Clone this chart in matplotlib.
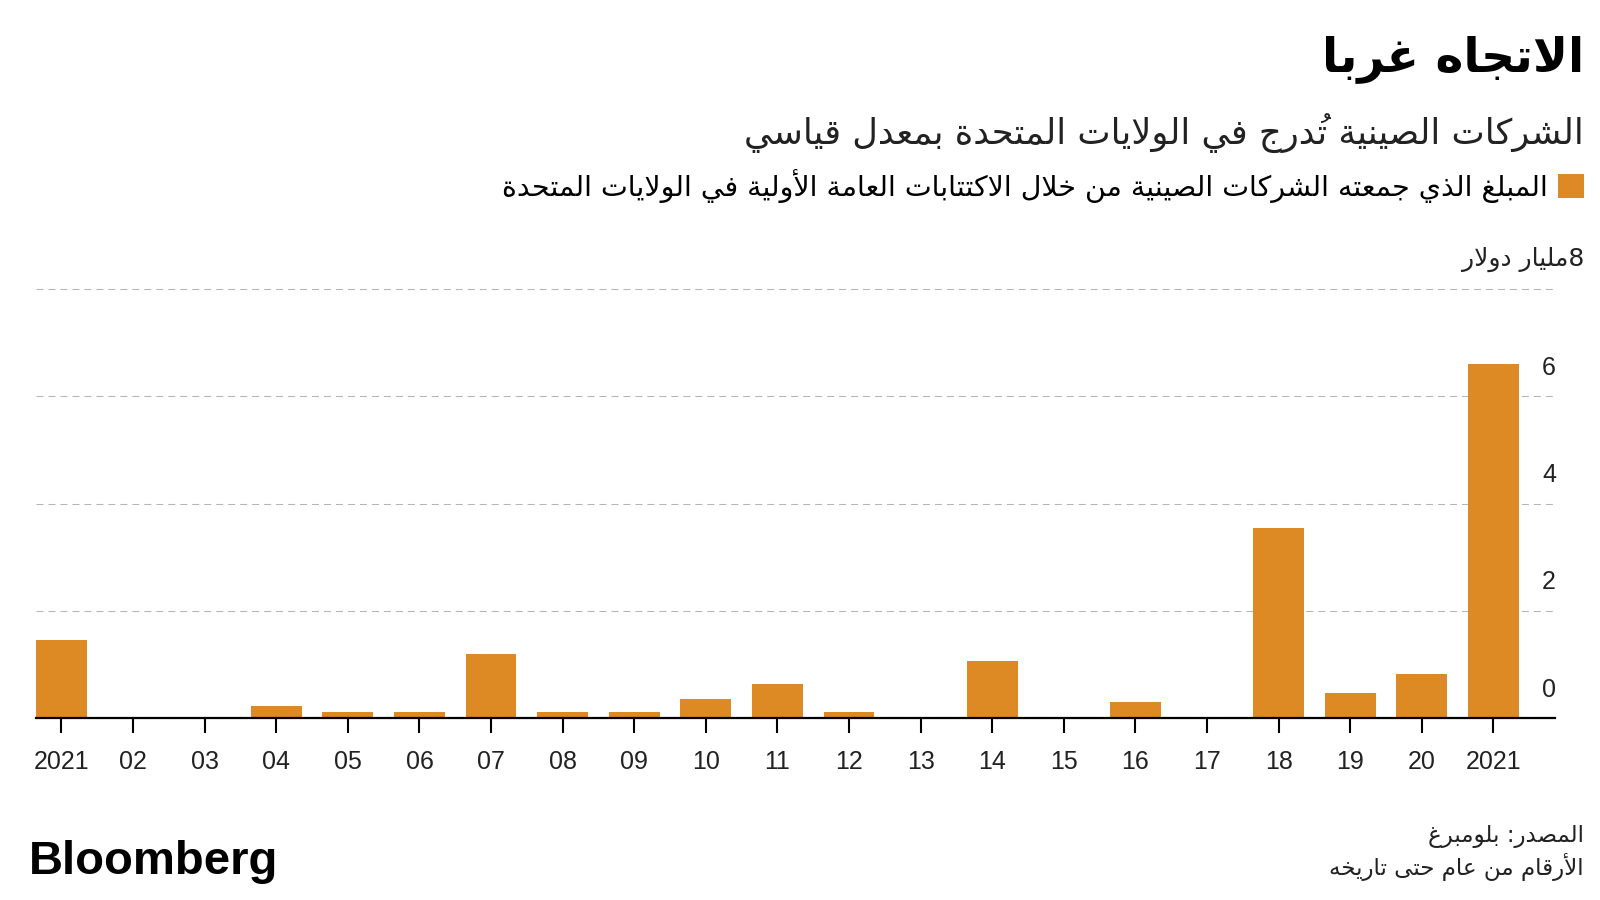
import matplotlib
matplotlib.use("Agg")
import matplotlib.pyplot as plt
import matplotlib.transforms as mtransforms

OUT = "out.png"

# ---- data (billion USD raised by Chinese IPOs in the US) ----
years = ["2021", "02", "03", "04", "05", "06", "07", "08", "09", "10", "11",
         "12", "13", "14", "15", "16", "17", "18", "19", "20", "2021"]
ipo_bn = [1.46, 0, 0, 0.23, 0.12, 0.12, 1.19, 0.12, 0.12, 0.36, 0.64,
          0.12, 0, 1.07, 0, 0.31, 0, 3.55, 0.47, 0.83, 6.60]
y_ticks = [0, 2, 4, 6, 8]
y_labels = ["0", "2", "4", "6", ""]

TITLE = "الاتجاه غربا"
SUBTITLE = "الشركات الصينية تُدرج في الولايات المتحدة بمعدل قياسي"
LEGEND = "المبلغ الذي جمعته الشركات الصينية من خلال الاكتتابات العامة الأولية في الولايات المتحدة"
UNIT = "8مليار دولار"
SOURCE = "المصدر: بلومبرغ"
NOTE = "الأرقام من عام حتى تاريخه"

ORANGE = "#DD8A24"
AR_FONT = "DejaVu Sans"
NUM_FONT = "Liberation Sans"

# ---- tiny Arabic shaper (no raqm in matplotlib) ----
DUAL = {"ئ": 0xFE89, "ب": 0xFE8F, "ت": 0xFE95, "ث": 0xFE99, "ج": 0xFE9D,
        "ح": 0xFEA1, "خ": 0xFEA5, "س": 0xFEB1, "ش": 0xFEB5, "ص": 0xFEB9,
        "ض": 0xFEBD, "ط": 0xFEC1, "ظ": 0xFEC5, "ع": 0xFEC9, "غ": 0xFECD,
        "ف": 0xFED1, "ق": 0xFED5, "ك": 0xFED9, "ل": 0xFEDD, "م": 0xFEE1,
        "ن": 0xFEE5, "ه": 0xFEE9, "ي": 0xFEF1}
RIGHT = {"آ": 0xFE81, "أ": 0xFE83, "ؤ": 0xFE85, "إ": 0xFE87, "ا": 0xFE8D,
         "ة": 0xFE93, "د": 0xFEA9, "ذ": 0xFEAB, "ر": 0xFEAD, "ز": 0xFEAF,
         "و": 0xFEED, "ى": 0xFEEF}
LAM_ALEF = {"آ": 0xFEF5, "أ": 0xFEF7, "إ": 0xFEF9, "ا": 0xFEFB}
MARKS = set(chr(c) for c in range(0x064B, 0x0653))


def jtype(b):
    if b in DUAL:
        return "D"
    if b in RIGHT or b.startswith("LA"):
        return "R"
    return "U"


def ar(text):
    clusters = []
    for ch in text:
        if ch in MARKS and clusters:
            clusters[-1][1] += ch
        else:
            clusters.append([ch, ""])
    merged = []
    i = 0
    while i < len(clusters):
        b, m = clusters[i]
        if b == "ل" and i + 1 < len(clusters) and clusters[i + 1][0] in LAM_ALEF:
            merged.append(["LA" + clusters[i + 1][0], m + clusters[i + 1][1]])
            i += 2
        else:
            merged.append([b, m])
            i += 1
    out = []
    for i, (b, m) in enumerate(merged):
        t = jtype(b)
        pj = i > 0 and jtype(merged[i - 1][0]) == "D" and t != "U"
        nj = i + 1 < len(merged) and t == "D" and jtype(merged[i + 1][0]) != "U"
        if b.startswith("LA"):
            g = chr(LAM_ALEF[b[2]] + (1 if pj else 0))
        elif t == "D":
            g = chr(DUAL[b] + (3 if pj and nj else 1 if pj else 2 if nj else 0))
        elif t == "R":
            g = chr(RIGHT[b] + (1 if pj else 0))
        else:
            g = b
        # mark goes before its base in visual (left-to-right) order
        out.append((m + g, b.isascii() and b.isalnum()))
    runs = []
    for g, ltr in out:
        if runs and runs[-1][0] == ltr:
            runs[-1][1].append(g)
        else:
            runs.append([ltr, [g]])
    vis = ""
    for ltr, gs in reversed(runs):
        vis += "".join(gs if ltr else reversed(gs))
    return vis


# ---- figure ----
W, H = 1600, 900
fig = plt.figure(figsize=(16, 9), dpi=100)
ax = fig.add_axes([36 / W, 181.7 / H, (1555 - 36) / W, (718.3 - 289) / H])

x = list(range(len(years)))
ax.bar(x, ipo_bn, width=0.71, color=ORANGE, label=ar(LEGEND), zorder=2)

ax.set_xlim(-0.356, 20.86)
ax.set_ylim(0, 8)
ax.set_xticks(x)
ax.set_xticklabels(years, family=NUM_FONT, fontsize=18, color="#222222")
ax.tick_params(axis="x", length=10.8, width=1.5, color="black", pad=12)

ax.yaxis.tick_right()
ax.set_yticks(y_ticks)
ax.set_yticklabels(y_labels, family=NUM_FONT, fontsize=18, color="#222222")
ax.tick_params(axis="y", length=0, pad=0.7)
shift = mtransforms.ScaledTranslation(0, 31 / 100, fig.dpi_scale_trans)
for lab in ax.get_yticklabels():
    lab.set_horizontalalignment("right")
    lab.set_transform(lab.get_transform() + shift)

ax.grid(axis="y", color="#b5b5b5", linewidth=0.75, linestyle=(0, (6.7, 4.8)))
for gl in ax.get_ygridlines():
    gl.set_clip_on(False)
ax.set_axisbelow(True)

for s in ["left", "right", "top"]:
    ax.spines[s].set_visible(False)
ax.spines["bottom"].set_linewidth(1.6)
ax.spines["bottom"].set_color("black")
ax.spines["bottom"].set_zorder(3)

# ---- texts ----
RX = 1584 / W
fig.text(RX, 1 - 59 / H, ar(TITLE), ha="right", va="center",
         fontsize=34, fontweight="bold", family=AR_FONT, color="black")
fig.text(RX, 1 - 133 / H, ar(SUBTITLE), ha="right", va="center",
         fontsize=25.4, family=AR_FONT, color="#222222")
fig.legend(loc="center right", bbox_to_anchor=(RX, 1 - 186 / H),
           markerfirst=False, frameon=False, handlelength=0.92,
           handleheight=0.92, handletextpad=0.35, borderpad=0,
           borderaxespad=0, prop={"family": AR_FONT, "size": 20.5})
fig.text(RX, 1 - 259 / H, ar(UNIT), ha="right", va="center",
         fontsize=18, family=AR_FONT, color="#222222")
fig.text(RX, 1 - 837 / H, ar(SOURCE), ha="right", va="center",
         fontsize=16.6, family=AR_FONT, color="#222222")
fig.text(RX, 1 - 867 / H, ar(NOTE), ha="right", va="center",
         fontsize=16.6, family=AR_FONT, color="#222222")
fig.text(29 / W, 1 - 862 / H, "Bloomberg", ha="left", va="center",
         fontsize=34, fontweight="bold", family=NUM_FONT, color="black")

fig.savefig(OUT, dpi=100, facecolor="white")
print("Saved", OUT)
